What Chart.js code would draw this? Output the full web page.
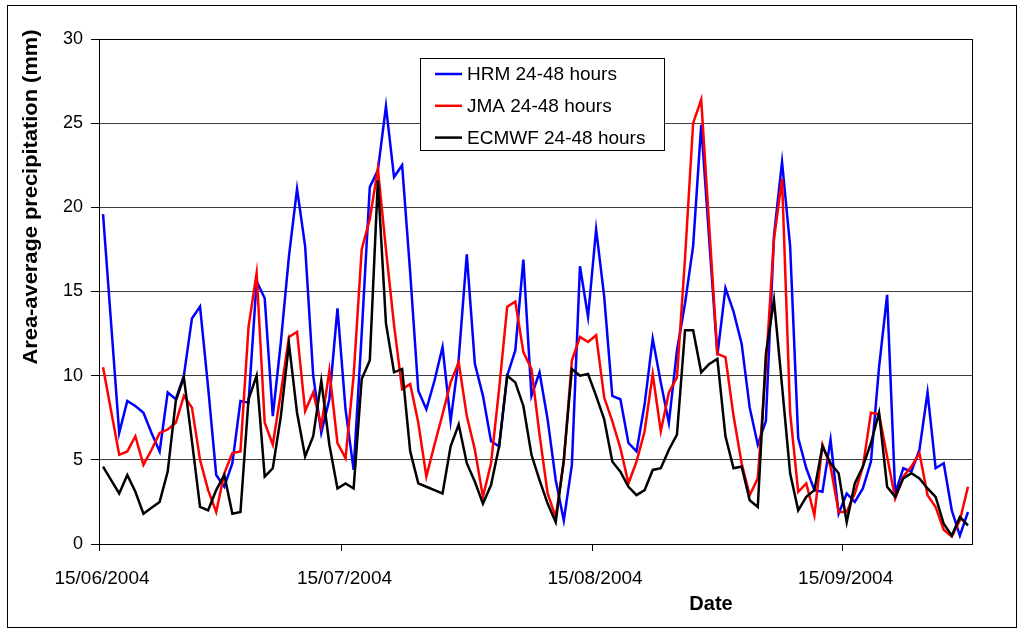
<!DOCTYPE html>
<html>
<head>
<meta charset="utf-8">
<title>Area-average precipitation</title>
<script src="https://cdn.jsdelivr.net/npm/chart.js@4.4.0/dist/chart.umd.min.js"></script>
<style>
  html, body { margin: 0; padding: 0; background: #fff; }
  #wrap { position: relative; width: 1023px; height: 633px; }
  #frame { position: absolute; left: 7px; top: 5px; width: 1008px; height: 621px; border: 1px solid #000; pointer-events: none; }
</style>
</head>
<body>
<div id="wrap">
  <canvas id="precip" width="1023" height="633"></canvas>
  <div id="frame"></div>
</div>
<script>
// Daily area-average precipitation (mm), 15/06/2004 .. 30/09/2004
var hrm = [
  19.6, 13.1, 6.6, 8.5, 8.2, 7.8, 6.6, 5.5, 9.0, 8.6, 10.0, 13.4, 14.1, 9.3, 4.1, 3.4, 4.8, 8.5, 8.4, 15.6,
  14.6, 7.6, 12.0, 17.1, 21.1, 17.7, 10.0, 6.6, 8.6, 14.0, 8.0, 4.4, 12.5, 21.2, 22.2, 26.0, 21.8, 22.5, 16.1, 9.1,
  8.0, 9.7, 11.7, 7.3, 11.0, 17.2, 10.7, 8.8, 6.1, 5.8, 10.0, 11.5, 16.9, 8.8, 10.2, 7.4, 3.8, 1.4, 4.7, 16.5,
  13.5, 18.7, 14.7, 8.8, 8.6, 6.0, 5.5, 8.3, 12.2, 9.6, 7.2, 11.5, 14.3, 17.7, 24.9, 18.0, 11.2, 15.2, 13.8, 11.9,
  8.1, 5.9, 7.3, 18.3, 22.7, 17.7, 6.3, 4.5, 3.2, 3.1, 6.2, 1.8, 3.0, 2.5, 3.3, 4.9, 10.5, 14.8, 3.0, 4.5,
  4.3, 5.6, 9.0, 4.5, 4.8, 2.0, 0.5, 1.9
];
var jma = [
  10.5, 7.9, 5.3, 5.5, 6.4, 4.7, 5.6, 6.6, 6.8, 7.2, 8.8, 8.1, 5.0, 3.2, 1.9, 4.2, 5.4, 5.5, 12.9, 16.1,
  7.2, 5.9, 9.0, 12.3, 12.6, 7.9, 9.0, 7.0, 10.3, 6.0, 5.1, 10.0, 17.5, 19.3, 22.3, 17.5, 13.0, 9.2, 9.5, 7.2,
  4.0, 5.9, 7.7, 9.6, 10.8, 7.6, 5.6, 2.8, 4.8, 9.2, 14.1, 14.4, 11.4, 10.4, 6.5, 3.0, 1.6, 4.9, 10.9, 12.3,
  12.0, 12.4, 8.7, 7.3, 5.7, 3.6, 4.9, 6.7, 10.1, 6.7, 9.0, 9.9, 17.0, 25.0, 26.4, 18.8, 11.3, 11.1, 7.6, 4.8,
  2.9, 3.9, 10.5, 18.1, 21.7, 7.8, 3.1, 3.6, 1.7, 5.9, 4.6, 1.9, 1.9, 3.0, 4.6, 7.8, 7.7, 5.2, 2.7, 4.0,
  4.6, 5.4, 2.9, 2.2, 0.85, 0.45, 1.4, 3.4
];
var ecmwf = [
  4.6, 3.8, 3.0, 4.1, 3.1, 1.8, 2.15, 2.5, 4.3, 8.5, 9.9, 6.1, 2.2, 2.0, 3.2, 4.1, 1.8, 1.9, 8.6, 10.0,
  4.0, 4.5, 7.6, 11.9, 7.8, 5.2, 6.4, 9.7, 5.9, 3.3, 3.6, 3.3, 9.8, 10.9, 21.6, 13.1, 10.2, 10.4, 5.5, 3.6,
  3.4, 3.2, 3.0, 5.8, 7.1, 4.8, 3.7, 2.4, 3.5, 5.8, 10.0, 9.6, 8.2, 5.3, 3.8, 2.4, 1.3, 5.0, 10.4, 10.0,
  10.1, 8.8, 7.4, 4.9, 4.3, 3.4, 2.9, 3.2, 4.4, 4.5, 5.6, 6.5, 12.7, 12.7, 10.2, 10.7, 11.0, 6.4, 4.5, 4.6,
  2.6, 2.2, 11.3, 14.5, 9.4, 4.2, 2.0, 2.8, 3.2, 5.8, 4.8, 4.2, 1.3, 3.6, 4.6, 6.0, 7.8, 3.4, 2.8, 3.9,
  4.2, 3.9, 3.3, 2.8, 1.2, 0.5, 1.6, 1.1
];

var seriesNames = ['HRM 24-48 hours', 'JMA 24-48 hours', 'ECMWF 24-48 hours'];
var seriesColors = ['#0000ff', '#ff0000', '#000000'];
var tickLabels = ['15/06/2004', '15/07/2004', '15/08/2004', '15/09/2004'];
var tickDays = [0, 30, 61, 92];   // days after 15/06/2004
var totalDays = 108;
var xTitle = 'Date';
var yTitle = 'Area-average precipitation (mm)';

var FONT = '"Liberation Sans", Arial, sans-serif';

// date axis: each day's value sits in the middle of its day
function toPoints(vals) {
  return vals.map(function (v, i) { return { x: i + 0.5, y: v }; });
}

// plot frame, legend box and axis titles
var extras = {
  id: 'extras',
  afterDraw: function (chart) {
    var c = chart.ctx, a = chart.chartArea;
    c.save();
    c.strokeStyle = '#000';
    c.lineWidth = 1;
    c.strokeRect(Math.round(a.left) + 0.5, Math.round(a.top) + 0.5,
      Math.round(a.right - a.left), Math.round(a.bottom - a.top));

    // legend
    var lx = 420.5, ly = 58.5, lw = 244, lh = 92;
    c.fillStyle = '#fff';
    c.fillRect(lx, ly, lw, lh);
    c.strokeRect(lx, ly, lw, lh);
    c.font = '19px ' + FONT;
    c.textBaseline = 'middle';
    c.textAlign = 'left';
    chart.data.datasets.forEach(function (ds, i) {
      var y = 74 + i * 31.8;
      c.strokeStyle = ds.borderColor;
      c.lineWidth = 2.5;
      c.beginPath();
      c.moveTo(435, y);
      c.lineTo(462, y);
      c.stroke();
      c.fillStyle = '#000';
      c.fillText(ds.label, 467, y + 1);
    });

    // axis titles
    c.fillStyle = '#000';
    c.font = 'bold 20px ' + FONT;
    c.textAlign = 'center';
    c.fillText(xTitle, 711, 604);
    c.translate(31, 197);
    c.rotate(-Math.PI / 2);
    var w = c.measureText(yTitle).width;
    c.scale(335 / w, 1);   // the original title runs a little wider
    c.fillText(yTitle, 0, 0);
    c.restore();
  }
};

var ctx = document.getElementById('precip').getContext('2d');
var chart = new Chart(ctx, {
  type: 'line',
  data: {
    datasets: [
      { label: seriesNames[0], data: toPoints(hrm), borderColor: seriesColors[0], order: 3 },
      { label: seriesNames[1], data: toPoints(jma), borderColor: seriesColors[1], order: 2 },
      { label: seriesNames[2], data: toPoints(ecmwf), borderColor: seriesColors[2], order: 1 }
    ]
  },
  options: {
    responsive: false,
    animation: false,
    layout: { padding: { left: 0, top: 39, right: 51, bottom: 0 } },
    elements: {
      point: { radius: 0 },
      line: { borderWidth: 2.5, tension: 0, fill: false }
    },
    plugins: {
      legend: { display: false },
      tooltip: { enabled: false }
    },
    scales: {
      x: {
        type: 'linear',
        min: 0,
        max: totalDays,
        afterBuildTicks: function (scale) {
          scale.ticks = tickDays.map(function (d) { return { value: d }; });
        },
        afterFit: function (scale) { scale.height = 89; },
        grid: { drawOnChartArea: false, drawTicks: true, tickLength: 7, color: '#000' },
        border: { color: '#000', width: 1 },
        ticks: {
          autoSkip: false,
          maxRotation: 0,
          color: '#000',
          font: { family: FONT, size: 19 },
          padding: 16,
          labelOffset: 3,
          callback: function (value, index) { return tickLabels[index]; }
        }
      },
      y: {
        min: 0,
        max: 30,
        afterFit: function (scale) { scale.width = 99; },
        grid: { color: '#404040', tickColor: '#000', tickLength: 8 },
        border: { color: '#000', width: 1 },
        ticks: {
          stepSize: 5,
          color: '#000',
          font: { family: FONT, size: 18 },
          padding: 8
        }
      }
    }
  },
  plugins: [extras]
});
</script>
</body>
</html>
